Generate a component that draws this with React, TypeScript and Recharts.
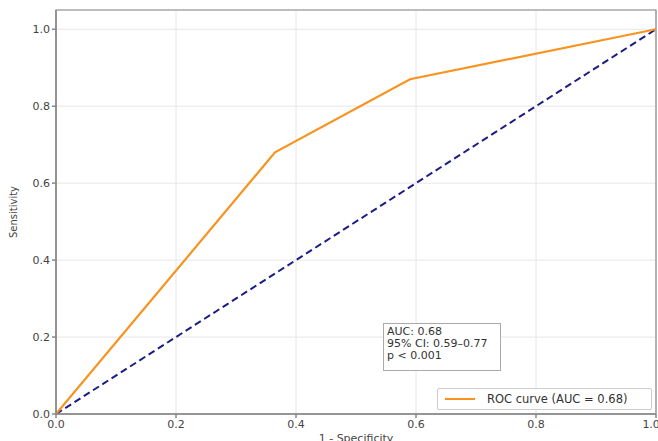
import React from 'react';
import { ComposedChart, Line, XAxis, YAxis, CartesianGrid, ReferenceArea } from 'recharts';

const rocX = [0, 0.365, 0.59, 1];
const rocY = [0, 0.68, 0.87, 1];
const diagX = [0, 1];
const diagY = [0, 1];
const xTicks = [0, 0.2, 0.4, 0.6, 0.8, 1.0];
const yTicks = [0, 0.2, 0.4, 0.6, 0.8, 1.0];
const annotationLines = ['AUC: 0.68', '95% CI: 0.59\u20130.77', 'p < 0.001'];
const legendLabel = 'ROC curve (AUC = 0.68)';

const rocData = rocX.map((x, i) => ({ x, y: rocY[i] }));
const diagData = diagX.map((x, i) => ({ x, y: diagY[i] }));

const FONT = '"DejaVu Sans", sans-serif';
const ORANGE = '#f7931e';
const NAVY = '#1c1c85';

export default function App() {
  return (
    <div style={{ position: 'absolute', left: 0, top: 0, width: 658, height: 441, background: '#fff', fontFamily: FONT }}>
      <ComposedChart width={658} height={441} margin={{ top: 10, right: 2, left: 0, bottom: 0 }}>
        <CartesianGrid stroke="#e6e6e6" strokeWidth={1} />
        <XAxis
          type="number"
          dataKey="x"
          domain={[0, 1]}
          ticks={xTicks}
          allowDataOverflow
          height={27}
          tickFormatter={(v: number) => v.toFixed(1)}
          stroke="#888"
          strokeWidth={1.5}
          tickSize={4}
          tick={{ fill: '#444', fontSize: 11, fontFamily: FONT }}
          label={{ value: '1 - Specificity', position: 'insideBottom', offset: -1, fill: '#444', fontSize: 11, fontFamily: FONT }}
        />
        <YAxis
          type="number"
          dataKey="y"
          domain={[0, 1.05]}
          ticks={yTicks}
          allowDataOverflow
          width={56}
          tickFormatter={(v: number) => v.toFixed(1)}
          stroke="#888"
          strokeWidth={1.5}
          tickSize={4}
          tick={{ fill: '#444', fontSize: 11, fontFamily: FONT }}
          label={{ value: 'Sensitivity', angle: -90, position: 'insideLeft', offset: 13, fill: '#444', fontSize: 10, fontFamily: FONT, style: { textAnchor: 'middle' } }}
        />
        <ReferenceArea x1={0} x2={1} y1={0} y2={1.05} fill="none" stroke="#888" strokeWidth={1.2} ifOverflow="visible" />
        <Line data={diagData} dataKey="y" type="linear" stroke={NAVY} strokeWidth={2} strokeDasharray="7 4" dot={false} isAnimationActive={false} />
        <Line data={rocData} dataKey="y" type="linear" stroke={ORANGE} strokeWidth={2.2} dot={false} isAnimationActive={false} />
      </ComposedChart>
      <div style={{ position: 'absolute', left: 383, top: 323, width: 118, height: 48, border: '1px solid #aaa', background: '#fff', boxSizing: 'border-box', padding: '2px 3px', fontSize: 11, lineHeight: '12px', color: '#333' }}>
        {annotationLines.map((t) => (
          <div key={t}>{t}</div>
        ))}
      </div>
      <div style={{ position: 'absolute', left: 437, top: 388, width: 215, height: 22, border: '1px solid #ccc', borderRadius: 2, background: '#fff', boxSizing: 'border-box', display: 'flex', alignItems: 'center', fontSize: 11.5, color: '#333' }}>
        <div style={{ width: 30, height: 2, background: ORANGE, marginLeft: 7, marginRight: 12 }} />
        <span>{legendLabel}</span>
      </div>
    </div>
  );
}
